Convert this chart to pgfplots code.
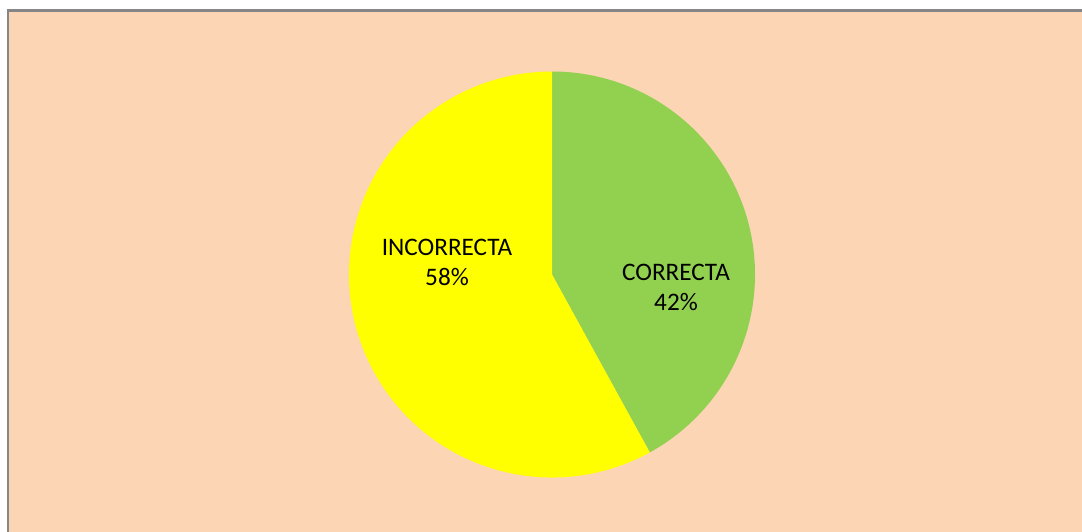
\documentclass[border=0pt]{standalone}
\usepackage{pgfplots}
\usepackage{pgfplotstable}
\pgfplotsset{compat=1.18}
\usepackage{fontspec}
\setmainfont{Carlito}
\definecolor{peach}{HTML}{FCD5B5}
\definecolor{pgreen}{HTML}{92D050}
\definecolor{pyellow}{HTML}{FFFF00}
\definecolor{frame}{HTML}{868686}
\pgfplotstableread{
label value
CORRECTA 42
INCORRECTA 58
}\piedata
\pgfplotstablegetelem{0}{value}\of\piedata \let\vA\pgfplotsretval
\pgfplotstablegetelem{1}{value}\of\piedata \let\vB\pgfplotsretval
\begin{document}
\begin{tikzpicture}
\begin{axis}[
  width=1082pt, height=531pt, scale only axis,
  xmin=0, xmax=1082, ymin=0, ymax=531,
  hide axis, clip=true,
]
\pgfmathsetmacro{\total}{\vA+\vB}
\pgfmathsetmacro{\angA}{90-360*\vA/\total}
\fill[white] (axis cs:-5,-5) rectangle (axis cs:1090,540);
\filldraw[fill=peach, draw=frame, line width=2.2pt] (axis cs:8,520.5) rectangle (axis cs:1095,-20);
\fill[pgreen] (axis cs:552,256.5) -- ++(90:203pt) arc[start angle=90, end angle=\angA, radius=203pt] -- cycle;
\fill[pyellow] (axis cs:552,256.5) -- ++(\angA:203pt) arc[start angle=\angA, end angle=-270, radius=203pt] -- cycle;
\node[align=center, font=\fontsize{25.2}{30}\selectfont, inner sep=0pt] at (axis cs:447,269) {INCORRECTA\\\vB\%};
\node[align=center, font=\fontsize{25.2}{30}\selectfont, inner sep=0pt] at (axis cs:676,244) {CORRECTA\\\vA\%};
\end{axis}
\pgfresetboundingbox
\useasboundingbox (0,0) rectangle (1082pt,531pt);
\end{tikzpicture}
\end{document}
